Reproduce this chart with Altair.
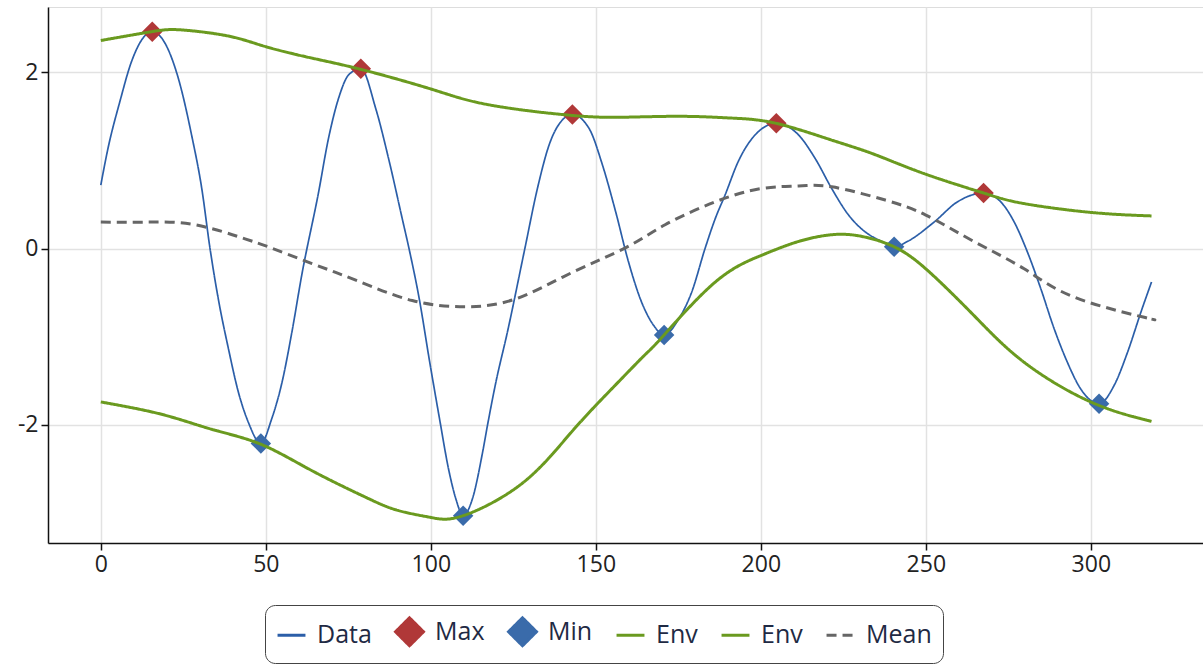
import altair as alt
import pandas as pd

# ---- values ----
data_x = [0, 2.2, 5.8, 9.3, 15.6, 18.4, 23.5, 27.5, 30.6, 33.1, 35.6, 38.7, 41.7, 44.7, 48.5,
          51.8, 54.9, 57.9, 60.9, 66.0, 69.0, 72.1, 75.1, 78.8, 83.3, 87.4, 91.4, 93.4, 96.5,
          99.5, 102.5, 105.6, 107.6, 109.8, 112.6, 115.7, 117.2, 119.7, 123.2, 128.5, 132.3,
          135.9, 139.9, 142.9, 148.0, 152.0, 156.0, 159.9, 163.9, 167.5, 170.7, 175.1, 179.1,
          183.1, 186.2, 189.2, 193.2, 198.3, 204.7, 211.4, 216.5, 221.5, 226.6, 231.6, 236.7,
          240.4, 244.4, 252.5, 259.6, 267.5, 272.7, 276.8, 280.8, 284.8, 288.9, 292.9, 296.9,
          302.5, 307.1, 311.1, 315.2, 318.4]
data_y = [0.72, 1.14, 1.67, 2.12, 2.46, 2.39, 1.93, 1.29, 0.68, 0.0, -0.57, -1.14, -1.63, -1.97,
          -2.21, -1.93, -1.52, -0.95, -0.30, 0.64, 1.25, 1.71, 1.97, 2.04, 1.59, 0.99, 0.33, 0.0,
          -0.57, -1.25, -1.90, -2.54, -2.84, -3.03, -2.84, -2.31, -2.0, -1.52, -0.95, 0.0, 0.68,
          1.18, 1.46, 1.52, 1.36, 0.95, 0.42, -0.15, -0.61, -0.87, -0.98, -0.80, -0.49, 0.0,
          0.34, 0.61, 0.99, 1.29, 1.42, 1.29, 1.02, 0.68, 0.38, 0.19, 0.08, 0.02, 0.08, 0.30,
          0.53, 0.63, 0.53, 0.30, -0.04, -0.45, -0.91, -1.29, -1.59, -1.76, -1.55, -1.18, -0.72,
          -0.38]

max_x = [15.6, 78.8, 142.9, 204.7, 267.5]
max_y = [2.46, 2.04, 1.52, 1.42, 0.63]
min_x = [48.5, 109.8, 170.7, 240.4, 302.5]
min_y = [-2.21, -3.03, -0.98, 0.02, -1.76]

up_x = [0, 15.4, 24.5, 38.7, 50, 64, 79.1, 100, 117.7, 142.9, 159.1, 176.1, 191.2, 204.7,
        221.5, 234.3, 249.5, 267.5, 279.8, 300, 318.4]
up_y = [2.36, 2.46, 2.48, 2.41, 2.29, 2.16, 2.03, 1.81, 1.63, 1.51, 1.49, 1.50, 1.48, 1.42,
        1.23, 1.07, 0.85, 0.63, 0.51, 0.41, 0.37]

lo_x = [0, 18.4, 33.6, 48.5, 64, 80.2, 90, 100, 109.8, 127.8, 142.9, 155.9, 164.5, 170.7,
        186.2, 200, 211.4, 222.5, 231.6, 240.4, 250, 264.6, 279.8, 300, 318.4]
lo_y = [-1.74, -1.88, -2.05, -2.22, -2.52, -2.82, -2.97, -3.05, -3.03, -2.66, -2.07, -1.55,
        -1.22, -0.98, -0.38, -0.08, 0.08, 0.16, 0.13, 0.02, -0.23, -0.76, -1.29, -1.74, -1.96]

mean_x = [0, 13.4, 28.5, 43.7, 50, 64, 78, 94.4, 110.6, 125.8, 142.9, 159.1, 171, 186.2, 200,
          211.4, 221.5, 237.7, 250, 264.6, 279.8, 294.9, 316.2, 318.4]
mean_y = [0.30, 0.30, 0.27, 0.11, 0.03, -0.17, -0.37, -0.59, -0.66, -0.57, -0.27, 0.01, 0.27,
          0.53, 0.68, 0.71, 0.70, 0.55, 0.38, 0.08, -0.23, -0.55, -0.78, -0.80]

x_ticks = [0, 50, 100, 150, 200, 250, 300]
y_ticks = [-2, 0, 2]

series_domain = ["Data", "Max", "Min", "Env1", "Env2", "Mean"]
series_colors = ["#2B5EA8", "#B03838", "#3A6BAA", "#6A9A1F", "#6A9A1F", "#666666"]
series_shapes = ["stroke", "diamond", "diamond", "stroke", "stroke", "stroke"]
series_dashes = [[1, 0], [1, 0], [1, 0], [1, 0], [1, 0], [10, 6]]


def frame(xs, ys, name):
    return pd.DataFrame({"x": xs, "y": ys, "series": name})


df_data = frame(data_x, data_y, "Data")
df_pts = pd.concat([frame(max_x, max_y, "Max"), frame(min_x, min_y, "Min")])
df_env = pd.concat([frame(up_x, up_y, "Env1"), frame(lo_x, lo_y, "Env2")])
df_mean = frame(mean_x, mean_y, "Mean")

FONT = "Open Sans"

legend = alt.Legend(
    title=None, orient="none", legendX=217, legendY=598, direction="horizontal",
    strokeColor="#444444", cornerRadius=10, padding=11, fillColor="white",
    labelFontSize=25, labelColor="#1f2a44", labelFont=FONT, labelOffset=10,
    symbolSize=780, symbolStrokeWidth=3, columnPadding=17,
    labelExpr="datum.label == 'Env1' || datum.label == 'Env2' ? 'Env' : datum.label",
)

color = alt.Color("series:N", scale=alt.Scale(domain=series_domain, range=series_colors), legend=legend)
shape = alt.Shape("series:N", scale=alt.Scale(domain=series_domain, range=series_shapes), legend=legend)
dash = alt.StrokeDash("series:N", scale=alt.Scale(domain=series_domain, range=series_dashes), legend=legend)

axis_common = dict(labelFontSize=23, labelFont=FONT, labelColor="#222222",
                   tickSize=7, tickColor="#111111", domainColor="#111111", domainWidth=1.5,
                   tickWidth=1.5, gridColor="#e2e2e2", gridWidth=1.5,
                   labelExpr="'' + datum.value")

X = alt.X("x:Q", title=None,
          scale=alt.Scale(domain=[-16, 334], nice=False, zero=False),
          axis=alt.Axis(values=x_ticks, labelPadding=3, **axis_common))
Y = alt.Y("y:Q", title=None,
          scale=alt.Scale(domain=[-3.34, 2.74], nice=False, zero=False),
          axis=alt.Axis(values=y_ticks, labelPadding=3, **axis_common))

line_data = alt.Chart(df_data).mark_line(interpolate="monotone", strokeWidth=1.7).encode(
    x=X, y=Y, color=color, strokeDash=dash)
points = alt.Chart(df_pts).mark_point(filled=True, size=420, opacity=1).encode(
    x=X, y=Y, color=color, shape=shape)
env = alt.Chart(df_env).mark_line(interpolate="natural", strokeWidth=3).encode(
    x=X, y=Y, color=color, strokeDash=dash)
mean = alt.Chart(df_mean).mark_line(interpolate="natural", strokeWidth=3).encode(
    x=X, y=Y, color=color, strokeDash=dash)

chart = alt.layer(line_data, points, env, mean).properties(
    width=1155, height=536,
    autosize=alt.AutoSizeParams(type="none"),
    padding={"left": 48, "top": 7, "right": 0, "bottom": 121},
).configure_view(stroke="#e2e2e2", strokeWidth=1.5).configure(background="white")

chart.save("out.html", embed_options={"renderer": "svg", "actions": False})
